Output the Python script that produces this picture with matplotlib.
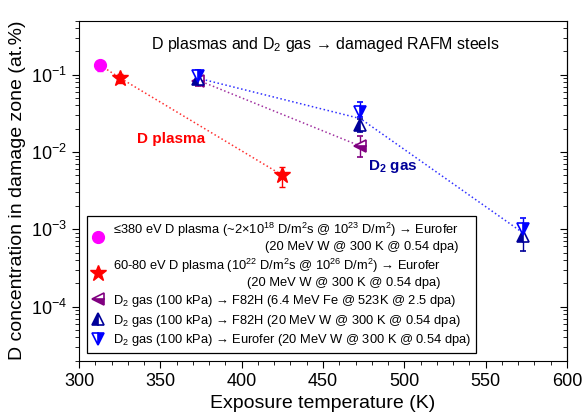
import matplotlib
matplotlib.use("Agg")
import matplotlib.pyplot as plt

plt.rcParams['font.family'] = ['Liberation Sans', 'DejaVu Sans']
plt.rcParams['mathtext.fontset'] = 'custom'
plt.rcParams['mathtext.rm'] = 'Liberation Sans'
plt.rcParams['mathtext.it'] = 'Liberation Sans:italic'
plt.rcParams['mathtext.bf'] = 'Liberation Sans:bold'

# low-energy plasma (<=380 eV)
lowE_T = [313]
lowE_c = [0.132]
lowE_lo = [0.022]
lowE_hi = [0.018]

# 60-80 eV plasma
hiflux_T = [325, 425]
hiflux_c = [0.091, 0.005]
hiflux_lo = [0.014, 0.0015]
hiflux_hi = [0.012, 0.0014]

# D2 gas -> F82H (Fe damage)
fe_T = [373, 473]
fe_c = [0.082, 0.0119]
fe_lo = [0.010, 0.0033]
fe_hi = [0.012, 0.0041]

# D2 gas -> F82H (W damage)
f82h_T = [373, 473, 573]
f82h_c = [0.088, 0.0223, 0.00082]
f82h_lo = [0.008, 0.004, 0.0003]
f82h_hi = [0.008, 0.004, 0.0003]

# D2 gas -> Eurofer (W damage)
euro_T = [373, 473, 573]
euro_c = [0.095, 0.033, 0.001]
euro_lo = [0.008, 0.005, 0.0003]
euro_hi = [0.019, 0.011, 0.0004]

# guide lines
plasma_line_T = [313, 325, 425]
plasma_line_c = [0.132, 0.091, 0.005]
fe_line_T = [373, 473]
fe_line_c = [0.085, 0.0119]
gas_line_T = [373, 473, 573]
gas_line_c = [0.09, 0.027, 0.0009]

labels = [
    '\u2264380 eV D plasma (~2\u00d710$^{18}$ D/m$^{2}$s @ 10$^{23}$ D/m$^{2}$) \u2192 Eurofer\n(20 MeV W @ 300 K @ 0.54 dpa)',
    '60-80 eV D plasma (10$^{22}$ D/m$^{2}$s @ 10$^{26}$ D/m$^{2}$) \u2192 Eurofer\n(20 MeV W @ 300 K @ 0.54 dpa)',
    'D$_{2}$ gas (100 kPa) \u2192 F82H (6.4 MeV Fe @ 523K @ 2.5 dpa)',
    'D$_{2}$ gas (100 kPa) \u2192 F82H (20 MeV W @ 300 K @ 0.54 dpa)',
    'D$_{2}$ gas (100 kPa) \u2192 Eurofer (20 MeV W @ 300 K @ 0.54 dpa)',
]

fig = plt.figure(figsize=(5.82, 4.19), dpi=100)
ax = fig.add_axes([0.136, 0.139, 0.838, 0.812])

ax.plot(plasma_line_T, plasma_line_c, ':', color='#ff3030', lw=1.1, zorder=1)
ax.plot(fe_line_T, fe_line_c, ':', color='#a030a0', lw=1.1, zorder=1)
ax.plot(gas_line_T, gas_line_c, ':', color='#3030ff', lw=1.1, zorder=1)

h1 = ax.errorbar(lowE_T, lowE_c, yerr=[lowE_lo, lowE_hi], fmt='o', color='#ff00ff',
                 ms=8.5, capsize=2, elinewidth=1, ls='none', zorder=3)
h2 = ax.errorbar(hiflux_T, hiflux_c, yerr=[hiflux_lo, hiflux_hi], fmt='*', color='#ff0000',
                 ms=12, capsize=2, elinewidth=1, ls='none', zorder=3)
h3 = ax.errorbar(fe_T, fe_c, yerr=[fe_lo, fe_hi], fmt='<', color='#800080', mfc='#800080',
                 mfcalt='white', fillstyle='bottom', mew=1.2, ms=9, capsize=2,
                 elinewidth=1, ls='none', zorder=3)
h4 = ax.errorbar(f82h_T, f82h_c, yerr=[f82h_lo, f82h_hi], fmt='^', color='#000099', mfc='#000099',
                 mfcalt='white', fillstyle='left', mew=1.2, ms=9, capsize=2,
                 elinewidth=1, ls='none', zorder=4)
h5 = ax.errorbar(euro_T, euro_c, yerr=[euro_lo, euro_hi], fmt='v', color='#0000ff', mfc='#0000ff',
                 mfcalt='white', fillstyle='right', mew=1.2, ms=9, capsize=2,
                 elinewidth=1, ls='none', zorder=4)

ax.set_yscale('log')
ax.set_xlim(300, 600)
ax.set_ylim(2e-5, 0.5)
ax.set_xticks([300, 350, 400, 450, 500, 550, 600])
ax.set_xticks(range(300, 601, 10), minor=True)
ax.tick_params(axis='both', which='major', direction='out', length=5, labelsize=13,
               top=False, right=False)
ax.tick_params(axis='both', which='minor', direction='out', length=3, top=False, right=False)

sec = ax.secondary_yaxis('right')
sec.tick_params(axis='y', which='major', direction='in', length=5, labelright=False)
sec.tick_params(axis='y', which='minor', direction='in', length=3, labelright=False)

ax.set_xlabel('Exposure temperature (K)', fontsize=14, labelpad=4)
ax.set_ylabel('D concentration in damage zone (at.%)', fontsize=14, labelpad=4)

ax.text(0.505, 0.93, 'D plasmas and D$_{2}$ gas \u2192 damaged RAFM steels',
        transform=ax.transAxes, ha='center', va='center', fontsize=11.5)
ax.text(335.5, 0.0146, 'D plasma', color='#ff0000', fontsize=11, fontweight='bold',
        ha='left', va='center')
ax.text(477.5, 0.0064, 'D$_{\\mathbf{2}}$ gas', color='#000099', fontsize=11, fontweight='bold',
        ha='left', va='center')

# legend shows markers only
handles = [h[0] for h in (h1, h2, h3, h4, h5)]
leg = ax.legend(handles, labels, loc='lower left',
                bbox_to_anchor=(0.017, 0.023), borderaxespad=0, fontsize=9.3,
                frameon=True, fancybox=False, edgecolor='black', framealpha=1,
                handlelength=1.0, handletextpad=0.6, labelspacing=0.3,
                borderpad=0.35)
leg.get_frame().set_linewidth(0.9)
for t in leg.get_texts():
    t.set_multialignment('right')

fig.savefig('out.png', dpi=100)
